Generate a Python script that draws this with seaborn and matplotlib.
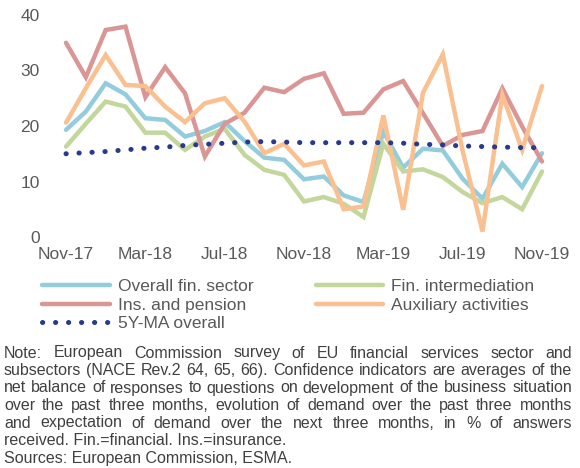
import numpy as np
import pandas as pd
import matplotlib
matplotlib.use("Agg")
import matplotlib.pyplot as plt
import seaborn as sns

# ---------------- data ----------------
months = ["Nov-17", "Dec-17", "Jan-18", "Feb-18", "Mar-18", "Apr-18", "May-18", "Jun-18",
          "Jul-18", "Aug-18", "Sep-18", "Oct-18", "Nov-18", "Dec-18", "Jan-19", "Feb-19",
          "Mar-19", "Apr-19", "May-19", "Jun-19", "Jul-19", "Aug-19", "Sep-19", "Oct-19", "Nov-19"]
tick_labels = ["Nov-17", "Mar-18", "Jul-18", "Nov-18", "Mar-19", "Jul-19", "Nov-19"]

overall = [19.3, 22.6, 27.7, 25.7, 21.4, 21.1, 18.1, 19.1, 20.7, 17.3, 14.3, 13.9, 10.4,
           10.9, 7.5, 6.3, 19.0, 12.5, 15.9, 15.6, 10.5, 6.9, 13.2, 9.0, 15.1]
fin_interm = [16.3, 20.4, 24.4, 23.5, 18.8, 18.8, 15.7, 18.1, 19.5, 14.8, 12.1, 11.2, 6.4,
              7.2, 6.0, 3.6, 16.8, 11.8, 12.2, 10.8, 8.1, 6.1, 7.2, 5.0, 11.8]
ins_pension = [35.0, 28.8, 37.3, 37.9, 25.2, 30.6, 25.9, 14.5, 20.4, 22.4, 26.9, 26.1, 28.5,
               29.5, 22.2, 22.4, 26.6, 28.1, 22.3, 16.4, 18.4, 19.1, 26.8, 19.9, 13.6]
auxiliary = [20.6, 26.8, 32.8, 27.4, 27.2, 23.5, 20.7, 24.1, 25.0, 20.8, 15.1, 16.8, 12.9,
             13.6, 5.0, 5.5, 21.9, 4.9, 26.0, 32.9, 15.5, 1.0, 25.6, 15.7, 27.2]
ma5y = [15.0, 15.2, 15.4, 15.7, 16.0, 16.2, 16.5, 16.7, 16.9, 17.1, 17.2, 17.1, 17.0,
        17.0, 17.0, 17.0, 17.0, 16.9, 16.7, 16.6, 16.4, 16.3, 16.2, 16.1, 16.1]

series_names = ["Overall fin. sector", "Fin. intermediation", "Ins. and pension",
                "Auxiliary activities", "5Y-MA overall"]
series_vals = [overall, fin_interm, ins_pension, auxiliary, ma5y]
colors = ["#93CDDD", "#C3D69B", "#D99694", "#FAC090", "#283A8C"]

note_lines = [
    "Note: European Commission survey of EU financial services sector and",
    "subsectors (NACE Rev.2 64, 65, 66). Confidence indicators are averages of the",
    "net balance of responses to questions on development of the business situation",
    "over the past three months, evolution of demand over the past three months",
    "and expectation of demand over the next three months, in % of answers",
    "received. Fin.=financial. Ins.=insurance.",
    "Sources: European Commission, ESMA.",
]
note_justify = [True, True, True, True, True, False, False]

# ---------------- figure ----------------
sns.set_theme(style="white")
plt.rcParams["font.family"] = ["Liberation Sans", "DejaVu Sans"]

W, H = 580, 468
fig = plt.figure(figsize=(W / 100, H / 100), dpi=100)
ax = fig.add_axes([66 / W, 1 - 237 / H, (542 - 66) / W, 222 / H])

df = pd.DataFrame({"idx": np.arange(len(months))})
for name, vals in zip(series_names, series_vals):
    df[name] = vals
long = df.melt(id_vars="idx", var_name="series", value_name="value")

palette = dict(zip(series_names, colors))
sns.lineplot(data=long, x="idx", y="value", hue="series", hue_order=series_names,
             palette=palette, linewidth=3.2, ax=ax, legend=False)

for line, name in zip(ax.get_lines(), series_names):
    line.set_clip_on(False)
    line.set_solid_joinstyle("miter")
    if name == "5Y-MA overall":
        line.set_linewidth(3.6)
        line.set_linestyle((0, (0.05, 2.55)))
        line.set_dash_capstyle("round")
    line.set_label(name)

ax.set_xlim(0, len(months) - 1)
ax.set_ylim(0, 40)
ax.set_yticks([0, 10, 20, 30, 40])
ax.set_xticks([months.index(t) for t in tick_labels])
ax.set_xticklabels(tick_labels)
ax.set_xlabel("")
ax.set_ylabel("")
for s in ax.spines.values():
    s.set_visible(False)
ax.grid(False)
ax.tick_params(axis="y", length=0, pad=19, labelsize=12.5, labelcolor="#595959")
ax.tick_params(axis="x", length=0, pad=7, labelsize=12.5, labelcolor="#595959")

# legend
lines = ax.get_lines()
order = [0, 2, 4, 1, 3]
leg = fig.legend([lines[i] for i in order], [series_names[i] for i in order],
                 loc="upper left", bbox_to_anchor=(42 / W, 1 - 279 / H),
                 ncol=2, frameon=False, fontsize=12.5, labelcolor="#595959",
                 handlelength=3.9, handletextpad=0.45, columnspacing=3.6,
                 labelspacing=0.2, borderpad=0, borderaxespad=0)

# justified note text
fig.canvas.draw()
renderer = fig.canvas.get_renderer()
x0, x1 = 4, 572
base0, dy = 357.5, 17.5
note_kw = dict(fontsize=11.5, color="#404040", va="baseline", ha="left")
for k, (txt, just) in enumerate(zip(note_lines, note_justify)):
    yb = 1 - (base0 + k * dy) / H
    if not just:
        fig.text(x0 / W, yb, txt, **note_kw)
        continue
    words = txt.split(" ")
    objs = [fig.text(0, yb, w, **note_kw) for w in words]
    widths = [o.get_window_extent(renderer).width for o in objs]
    gap = ((x1 - x0) - sum(widths)) / (len(words) - 1)
    x = x0
    for o, w in zip(objs, widths):
        o.set_x(x / W)
        x += w + gap

fig.savefig("out.png", dpi=100)
